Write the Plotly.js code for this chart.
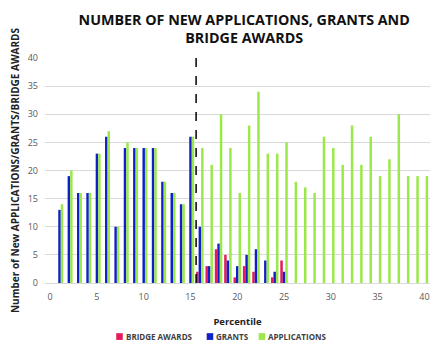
<!DOCTYPE html>
<html>
<head>
<meta charset="utf-8">
<script src="https://cdn.plot.ly/plotly-3.0.1.min.js"></script>
<style>html,body{margin:0;padding:0;background:#fff;}#chart{width:440px;height:351px;}</style>
</head>
<body>
<div id="chart"></div>
<script>
const percentiles = [1,2,3,4,5,6,7,8,9,10,11,12,13,14,15,16,17,18,19,20,21,22,23,24,25,26,27,28,29,30,31,32,33,34,35,36,37,38,39,40];
const bridgeAwards = [0,0,0,0,0,0,0,0,0,0,0,0,0,0,0,2,3,6,5,1,3,2,0,1,4,0,0,0,0,0,0,0,0,0,0,0,0,0,0,0];
const grants = [13,19,16,16,23,26,10,24,24,24,24,18,16,14,26,10,3,7,4,3,5,6,4,2,2,0,0,0,0,0,0,0,0,0,0,0,0,0,0,0];
const applications = [14,20,16,16,23,27,10,25,24,24,24,18,16,14,26,24,21,30,24,16,28,34,23,23,25,18,17,16,26,24,21,28,21,26,19,22,30,19,19,19];
const seriesNames = ['BRIDGE AWARDS','GRANTS','APPLICATIONS'];
const seriesColors = ['#E6195A','#1020C8','#9BE84A'];
const cutoff = 15.6;

const font = "'Open Sans', 'Liberation Sans', sans-serif";
const seriesData = [bridgeAwards, grants, applications];
const traces = seriesData.map((d,i)=>({type:'bar', name:seriesNames[i], x:percentiles, y:d, marker:{color:seriesColors[i]}}));

// custom compact legend (paper coords)
const legendX = [0.185, 0.42, 0.555];
const legendY = -0.238;
const shapes = [{type:'line', xref:'x', yref:'paper', x0:cutoff, x1:cutoff, y0:0, y1:1, line:{color:'#000', width:1.5, dash:'dash'}}];
const annotations = [];
seriesNames.forEach((n,i)=>{
  shapes.push({type:'rect', xref:'paper', yref:'paper', x0:legendX[i], x1:legendX[i]+0.017, y0:legendY-0.015, y1:legendY+0.015, fillcolor:seriesColors[i], line:{width:0}});
  annotations.push({xref:'paper', yref:'paper', x:legendX[i]+0.019, y:legendY, xanchor:'left', yanchor:'middle', showarrow:false, text:'<b>'+n+'</b>', font:{size:8, color:'#404040'}});
});

const layout = {
  width:440, height:351,
  margin:{l:45, r:10, t:58, b:68},
  paper_bgcolor:'#fff', plot_bgcolor:'#fff',
  font:{family:font, color:'#595959', size:9},
  title:{text:'<b>NUMBER OF NEW APPLICATIONS, GRANTS AND<br>BRIDGE AWARDS</b>', font:{family:font, size:14.3, color:'#111'}, x:0.555, xanchor:'center', yref:'container', y:0.93, yanchor:'top'},
  barmode:'group', bargap:0.2, bargroupgap:0,
  showlegend:false,
  xaxis:{range:[-0.55,40.6], tickvals:[0,5,10,15,20,25,30,35,40], showgrid:false, zeroline:false, showline:true, linecolor:'#d9d9d9', ticks:'', ticklabelstandoff:5, automargin:false, tickfont:{size:9, color:'#595959'},
    title:{text:'<b>Percentile</b>', font:{size:9.5, color:'#222'}, standoff:16}},
  yaxis:{range:[0,40], dtick:5, showgrid:true, gridcolor:'#d9d9d9', zeroline:false, showline:false, ticks:'', tickfont:{size:9, color:'#595959'}, ticklabelstandoff:6, automargin:false,
    title:{text:'<b>Number of New APPLICATIONS/GRANTS/BRIDGE AWARDS</b>', font:{size:10, color:'#222'}, standoff:6}},
  shapes: shapes,
  annotations: annotations
};
Plotly.newPlot('chart', traces, layout, {displayModeBar:false, staticPlot:true});
</script>
</body>
</html>
